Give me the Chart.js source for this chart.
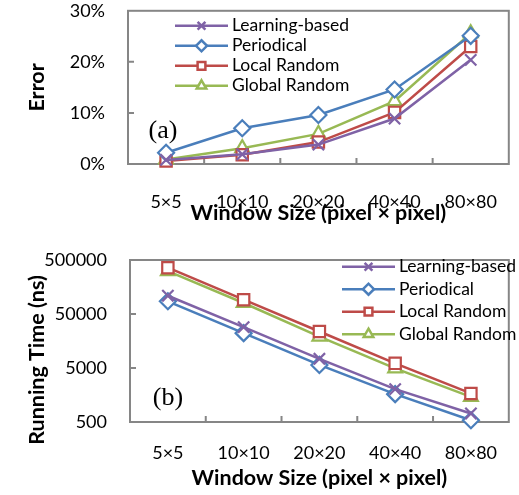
<!DOCTYPE html>
<html>
<head>
<meta charset="utf-8">
<script src="https://cdn.jsdelivr.net/npm/chart.js@4"></script>
<style>
  body { margin: 0; background: #fff; }
  .panel { position: absolute; left: 0; width: 519px; }
  #panel-a { top: 0; height: 240px; }
  #panel-b { top: 240px; height: 255px; }
</style>
</head>
<body>
<div class="panel" id="panel-a"><canvas id="error-chart"></canvas></div>
<div class="panel" id="panel-b"><canvas id="time-chart"></canvas></div>
<script>
const windowSizes = ["5×5", "10×10", "20×20", "40×40", "80×80"];
const seriesNames = ["Learning-based", "Periodical", "Local Random", "Global Random"];

// (a) error, in percent
const errorLearning = [0.8, 1.9, 3.8, 8.9, 20.4];
const errorPeriodical = [2.2, 7.0, 9.6, 14.6, 25.1];
const errorLocal = [0.6, 1.8, 4.3, 10.1, 23.0];
const errorGlobal = [0.9, 3.1, 5.9, 12.3, 25.6];
const errorTicks = [0, 10, 20, 30];

// (b) running time, ns
const timeLearning = [109000, 28600, 7400, 2030, 720];
const timePeriodical = [86000, 22100, 5700, 1640, 540];
const timeLocal = [360000, 92000, 23700, 6100, 1690];
const timeGlobal = [310000, 80000, 19100, 4930, 1460];
const timeTicks = [500, 5000, 50000, 500000];

const seriesColors = ["#7F62A6", "#4A7EBB", "#BE4B48", "#98B954"];
const seriesMarkers = ["crossRot", "rectRot", "rect", "triangle"];

Chart.defaults.font.family = "Lato";
Chart.defaults.color = "#000";

const TITLE_FONT = { size: 21.5, weight: "bold" };

// frame, inner tick marks, legend and panel tag
const panelDecor = {
  id: "panelDecor",
  beforeDatasetsDraw(chart, args, opts) {
    const { ctx, chartArea: area, scales } = chart;
    ctx.save();
    ctx.strokeStyle = "#868686";
    ctx.lineWidth = 2;
    ctx.strokeRect(area.left, area.top, area.width, area.height);
    ctx.beginPath();
    for (let i = 0; i < windowSizes.length - 1; i++) {
      const x = (scales.x.getPixelForValue(i) + scales.x.getPixelForValue(i + 1)) / 2;
      ctx.moveTo(x, area.bottom);
      ctx.lineTo(x, area.bottom - 6);
    }
    opts.yTicks.slice(1, -1).forEach((v) => {
      const y = scales.y.getPixelForValue(v);
      ctx.moveTo(area.left, y);
      ctx.lineTo(area.left + 6, y);
    });
    ctx.stroke();
    ctx.restore();
  },
  afterDatasetsDraw(chart, args, opts) {
    const { ctx, chartArea: area } = chart;
    ctx.save();
    chart.data.datasets.forEach((ds, i) => {
      const x0 = area.left + opts.legendX;
      const y = area.top + opts.legendY + i * opts.legendGap;
      ctx.strokeStyle = ds.borderColor;
      ctx.lineWidth = 2.5;
      ctx.beginPath();
      ctx.moveTo(x0, y);
      ctx.lineTo(x0 + 53, y);
      ctx.stroke();
      ctx.fillStyle = "#fff";
      Chart.helpers.drawPoint(ctx, {
        pointStyle: ds.pointStyle,
        radius: 5.5,
        borderWidth: 2,
        rotation: 0,
      }, x0 + 26.5, y);
      ctx.fillStyle = "#000";
      ctx.font = "17.5px Lato";
      ctx.textBaseline = "middle";
      ctx.textAlign = "left";
      ctx.fillText(ds.label, x0 + 57, y);
    });

    ctx.font = "26px 'Liberation Serif'";
    ctx.textAlign = "center";
    ctx.textBaseline = "middle";
    ctx.fillText(opts.tag, area.left + opts.tagX, area.top + opts.tagY);

    if (opts.yTitle) {
      ctx.save();
      ctx.translate(37, opts.yTitleY);
      ctx.rotate(-Math.PI / 2);
      ctx.font = "bold " + TITLE_FONT.size + "px Lato";
      ctx.fillText(opts.yTitle, 0, 0);
      ctx.restore();
    }
    ctx.restore();
  },
};

function makeDatasets(valueLists, radius) {
  return valueLists.map((values, i) => ({
    label: seriesNames[i],
    data: values,
    borderColor: seriesColors[i],
    backgroundColor: "#fff",
    pointBackgroundColor: "#fff",
    pointStyle: seriesMarkers[i],
    pointRadius: radius,
    pointHoverRadius: radius,
    pointBorderWidth: 2.2,
    borderWidth: 2.5,
    clip: false,
  }));
}

// tick gap comes from tickLength (grid hidden) so it does not pad the chart area
function makeXScale(height, tickGap, titlePad) {
  return {
    offset: true,
    grid: { display: false, drawTicks: true, tickLength: tickGap, offset: true },
    border: { display: false },
    ticks: { padding: 0, font: { size: 18 } },
    title: {
      display: true,
      text: "Window Size (pixel × pixel)",
      font: TITLE_FONT,
      padding: { top: 0, bottom: titlePad },
    },
    afterFit(scale) {
      scale.height = height;
    },
  };
}

new Chart(document.getElementById("error-chart"), {
  type: "line",
  data: {
    labels: windowSizes,
    datasets: makeDatasets([errorLearning, errorPeriodical, errorLocal, errorGlobal], 8),
  },
  options: {
    responsive: true,
    maintainAspectRatio: false,
    animation: false,
    layout: { padding: { top: 8, right: 4, left: 0, bottom: 0 } },
    scales: {
      x: makeXScale(76, 27, 14),
      y: {
        min: 0,
        max: 30,
        grid: { display: false, drawTicks: true, tickLength: 23 },
        border: { display: false },
        ticks: {
          padding: 0,
          font: { size: 18 },
          callback: (v) => v + "%",
        },
        afterBuildTicks(scale) {
          scale.ticks = errorTicks.map((v) => ({ value: v }));
        },
        title: {
          display: true,
          text: "Error",
          font: TITLE_FONT,
          padding: { top: 24, bottom: 0 },
        },
        afterFit(scale) {
          scale.width = 128;
        },
      },
    },
    plugins: {
      legend: { display: false },
      tooltip: { enabled: false },
      panelDecor: {
        yTicks: errorTicks,
        legendX: 47,
        legendY: 15,
        legendGap: 20,
        tag: "(a)",
        tagX: 35,
        tagY: 120,
      },
    },
  },
  plugins: [panelDecor],
});

new Chart(document.getElementById("time-chart"), {
  type: "line",
  data: {
    labels: windowSizes,
    datasets: makeDatasets([timeLearning, timePeriodical, timeLocal, timeGlobal], 8),
  },
  options: {
    responsive: true,
    maintainAspectRatio: false,
    animation: false,
    layout: { padding: { top: 20, right: 4, left: 0, bottom: 0 } },
    scales: {
      x: makeXScale(73, 20, 4),
      y: {
        type: "logarithmic",
        min: 500,
        max: 500000,
        grid: { display: false, drawTicks: true, tickLength: 23 },
        border: { display: false },
        ticks: {
          padding: 0,
          font: { size: 18 },
          callback: (v) => String(v),
        },
        afterBuildTicks(scale) {
          scale.ticks = timeTicks.map((v) => ({ value: v }));
        },
        afterFit(scale) {
          scale.width = 130;
        },
      },
    },
    plugins: {
      legend: { display: false },
      tooltip: { enabled: false },
      panelDecor: {
        yTicks: timeTicks,
        legendX: 212,
        legendY: 6.7,
        legendGap: 22.5,
        tag: "(b)",
        tagX: 38,
        tagY: 138,
        yTitle: "Running Time (ns)",
        yTitleY: 120,
      },
    },
  },
  plugins: [panelDecor],
});
</script>
</body>
</html>
